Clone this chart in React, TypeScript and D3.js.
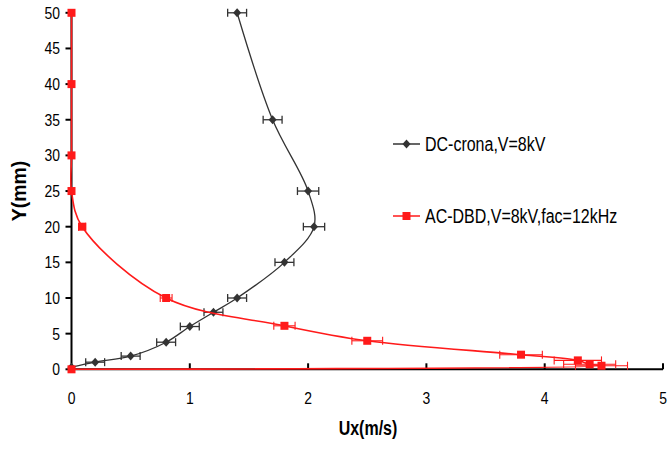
import React from "react";
import * as d3 from "d3";

// DC corona series (Ux in m/s, Y in mm)
const dcUx = [0, 0.2, 0.5, 0.8, 1.0, 1.2, 1.4, 1.8, 2.05, 2.0, 1.7, 1.4];
const dcY = [0.3, 1, 1.85, 3.8, 6, 8, 10, 15, 20, 25, 35, 50];
const dcErr = [0, 0.08, 0.08, 0.08, 0.08, 0.08, 0.08, 0.08, 0.09, 0.09, 0.08, 0.08];

// AC-DBD series
const acUx = [0, 0, 0, 0, 0.09, 0.8, 1.8, 2.5, 3.8, 4.28, 4.38, 4.48, 0];
const acY = [50, 40, 30, 25, 20, 10, 6.1, 4, 2.05, 1.25, 0.7, 0.5, 0];
const acErr = [0, 0, 0, 0, 0.03, 0.05, 0.09, 0.13, 0.18, 0.2, 0.22, 0.22, 0];

const xTicks = [0, 1, 2, 3, 4, 5];
const yTicks = [0, 5, 10, 15, 20, 25, 30, 35, 40, 45, 50];

const legendLabels = ["DC-crona,V=8kV", "AC-DBD,V=8kV,fac=12kHz"];

const W = 669;
const H = 452;
const font = "'Liberation Sans', Arial, sans-serif";
const dark = "#333333";
const red = "#ff1a1a";
const squeeze = 0.82; // the source picture is narrowed horizontally

function T({ x, y, anchor = "start", size = 17, bold = false, children }: any) {
  return (
    <text
      transform={`translate(${x},${y}) scale(${squeeze},1)`}
      textAnchor={anchor}
      fontSize={size}
      fontWeight={bold ? "bold" : "normal"}
    >
      {children}
    </text>
  );
}

export default function App() {
  const x = d3.scaleLinear().domain([0, 5]).range([71.5, 663]);
  const y = d3.scaleLinear().domain([0, 50]).range([369.3, 12.8]);

  const line = d3
    .line<[number, number]>()
    .x((d) => x(d[0]))
    .y((d) => y(d[1]))
    .curve(d3.curveCatmullRom.alpha(0.5));

  const dc: [number, number][] = dcUx.map((u, i) => [u, dcY[i]]);
  const ac: [number, number][] = acUx.map((u, i) => [u, acY[i]]);

  const errBars = (pts: [number, number][], err: number[], color: string, w: number) =>
    pts.map((p, i) => {
      if (!err[i]) return null;
      const x1 = x(p[0] - err[i]);
      const x2 = x(p[0] + err[i]);
      const yy = y(p[1]);
      return (
        <g key={i} stroke={color} strokeWidth={w} fill="none">
          <line x1={x1} x2={x2} y1={yy} y2={yy} />
          <line x1={x1} x2={x1} y1={yy - 4} y2={yy + 4} />
          <line x1={x2} x2={x2} y1={yy - 4} y2={yy + 4} />
        </g>
      );
    });

  const diamond = (cx: number, cy: number, k: string | number) => (
    <path
      key={k}
      d={`M${cx},${cy - 4.5}L${cx + 4},${cy}L${cx},${cy + 4.5}L${cx - 4},${cy}Z`}
      fill={dark}
    />
  );
  const square = (cx: number, cy: number, k: string | number) => (
    <rect key={k} x={cx - 4} y={cy - 4} width={8} height={8} fill={red} />
  );

  const legendY = [144, 216];

  return (
    <svg
      width={W}
      height={H}
      style={{ position: "absolute", left: 0, top: 0, background: "#fff" }}
      fontFamily={font}
    >
      {/* axes */}
      <line x1={x(0)} x2={x(5)} y1={y(0)} y2={y(0)} stroke="#000" strokeWidth={2} />
      <line x1={x(0)} x2={x(0)} y1={y(0)} y2={y(50)} stroke="#000" strokeWidth={2} />
      {xTicks.map((t) => (
        <g key={"xt" + t}>
          {t > 0 && (
            <line x1={x(t)} x2={x(t)} y1={y(0)} y2={y(0) - 6} stroke="#000" strokeWidth={2} />
          )}
          <T x={x(t)} y={404} anchor="middle">
            {t}
          </T>
        </g>
      ))}
      {yTicks.map((t) => (
        <g key={"yt" + t}>
          <line x1={x(0) - 6} x2={x(0)} y1={y(t)} y2={y(t)} stroke="#000" strokeWidth={2} />
          <T x={60} y={y(t) + 6} anchor="end">
            {t}
          </T>
        </g>
      ))}
      <T x={368} y={435} anchor="middle" size={19.5} bold>
        Ux(m/s)
      </T>
      <text
        transform={`translate(26,191) rotate(-90)`}
        textAnchor="middle"
        fontSize={19.5}
        fontWeight="bold"
      >
        Y(mm)
      </text>

      {/* DC corona */}
      <path d={line(dc) || ""} fill="none" stroke={dark} strokeWidth={1.3} />
      {errBars(dc, dcErr, dark, 1.3)}
      {dc.map((p, i) => diamond(x(p[0]), y(p[1]), "d" + i))}

      {/* AC-DBD */}
      <path d={line(ac) || ""} fill="none" stroke={red} strokeWidth={1.6} />
      {errBars(ac, acErr, red, 1.1)}
      {ac.map((p, i) => square(x(p[0]), y(p[1]), "s" + i))}

      {/* legend */}
      {legendLabels.map((lab, i) => (
        <g key={"lg" + i}>
          <line
            x1={393}
            x2={420}
            y1={legendY[i]}
            y2={legendY[i]}
            stroke={i === 0 ? dark : red}
            strokeWidth={1.5}
          />
          {i === 0 ? diamond(406.5, legendY[i], "ld") : square(406.5, legendY[i], "ls")}
          <T x={425} y={legendY[i] + 7} size={19.5}>
            {lab}
          </T>
        </g>
      ))}
    </svg>
  );
}
